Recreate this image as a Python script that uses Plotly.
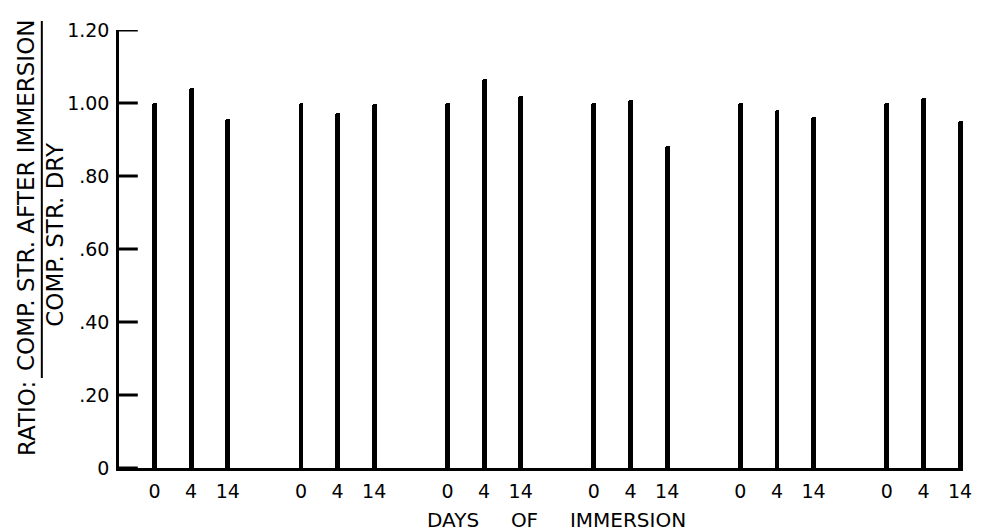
import plotly.graph_objects as go

# Compressive strength ratio (after immersion / dry) for six specimens,
# each tested after 0, 4 and 14 days of immersion.
days = ["0", "4", "14"]
ratio_1 = [1.00, 1.04, 0.956]
ratio_2 = [1.00, 0.972, 0.996]
ratio_3 = [1.00, 1.065, 1.02]
ratio_4 = [1.00, 1.007, 0.881]
ratio_5 = [1.00, 0.981, 0.962]
ratio_6 = [1.00, 1.015, 0.952]
groups = [ratio_1, ratio_2, ratio_3, ratio_4, ratio_5, ratio_6]

y_ticks = [0, 0.2, 0.4, 0.6, 0.8, 1.0, 1.2]
y_ticktext = ["0", ".20", ".40", ".60", ".80", "1.00", "1.20"]

W, H = 981, 532
L, R, T, B = 119, 9, 30, 64
FONT = "DejaVu Sans, Liberation Sans, sans-serif"
X_RANGE = [-0.97, 22.08]

# each group occupies three slots followed by one empty slot
xs, ys, labels = [], [], []
for g, vals in enumerate(groups):
    for i, v in enumerate(vals):
        xs.append(4 * g + i)
        ys.append(v)
        labels.append(days[i])

fig = go.Figure(
    go.Bar(
        x=xs, y=ys, width=0.135,
        marker=dict(color="black", line=dict(width=0), cornerradius=3),
        hoverinfo="skip",
    )
)

# short tick marks pointing into the plot from the value axis
slot_px = (W - L - R) / (X_RANGE[1] - X_RANGE[0])
tick_end = X_RANGE[0] + 19 / slot_px
for v in y_ticks:
    fig.add_trace(go.Scatter(x=[X_RANGE[0], tick_end], y=[v, v],
                             mode="lines", hoverinfo="skip",
                             line=dict(color="black", width=3),
                             cliponaxis=False))


def px(x):
    return (x - L) / (W - L - R)


def py(y):
    return (H - B - y) / (H - T - B)


title_font = dict(family=FONT, size=23, color="black")
annotations = [
    dict(text="RATIO:", x=px(26), y=py(418), textangle=-90),
    dict(text="COMP. STR. AFTER IMMERSION", x=px(25), y=py(195), textangle=-90),
    dict(text="COMP. STR. DRY", x=px(54), y=py(234), textangle=-90),
    dict(text="DAYS\u00a0\u00a0\u00a0\u00a0\u00a0OF\u00a0\u00a0\u00a0\u00a0\u00a0IMMERSION",
         x=px(561), y=py(520), textangle=0,
         font=dict(family=FONT, size=20, color="black")),
]
for a in annotations:
    a.setdefault("font", title_font)
    a.update(xref="paper", yref="paper", showarrow=False,
             xanchor="center", yanchor="middle")

shapes = [dict(type="line", xref="paper", yref="paper",
               x0=px(41), x1=px(41), y0=py(21), y1=py(378),
               line=dict(color="black", width=2))]

fig.update_layout(
    width=W, height=H,
    margin=dict(l=L, r=R, t=T, b=B, pad=0),
    paper_bgcolor="white", plot_bgcolor="white",
    showlegend=False,
    bargap=0,
    annotations=annotations,
    shapes=shapes,
    xaxis=dict(
        range=X_RANGE,
        tickmode="array", tickvals=xs, ticktext=labels,
        ticks="", showgrid=False, zeroline=False,
        showline=True, linecolor="black", linewidth=2.5,
        tickfont=dict(family=FONT, size=19, color="black"),
        ticklabelstandoff=4, ticklabeloverflow="allow",
    ),
    yaxis=dict(
        range=[0, 1.2],
        tickmode="array", tickvals=y_ticks, ticktext=y_ticktext,
        ticks="", showgrid=False, zeroline=False,
        showline=True, linecolor="black", linewidth=2.5,
        tickfont=dict(family=FONT, size=19, color="black"),
        ticklabelstandoff=3,
    ),
)

fig.write_html("out.html")
